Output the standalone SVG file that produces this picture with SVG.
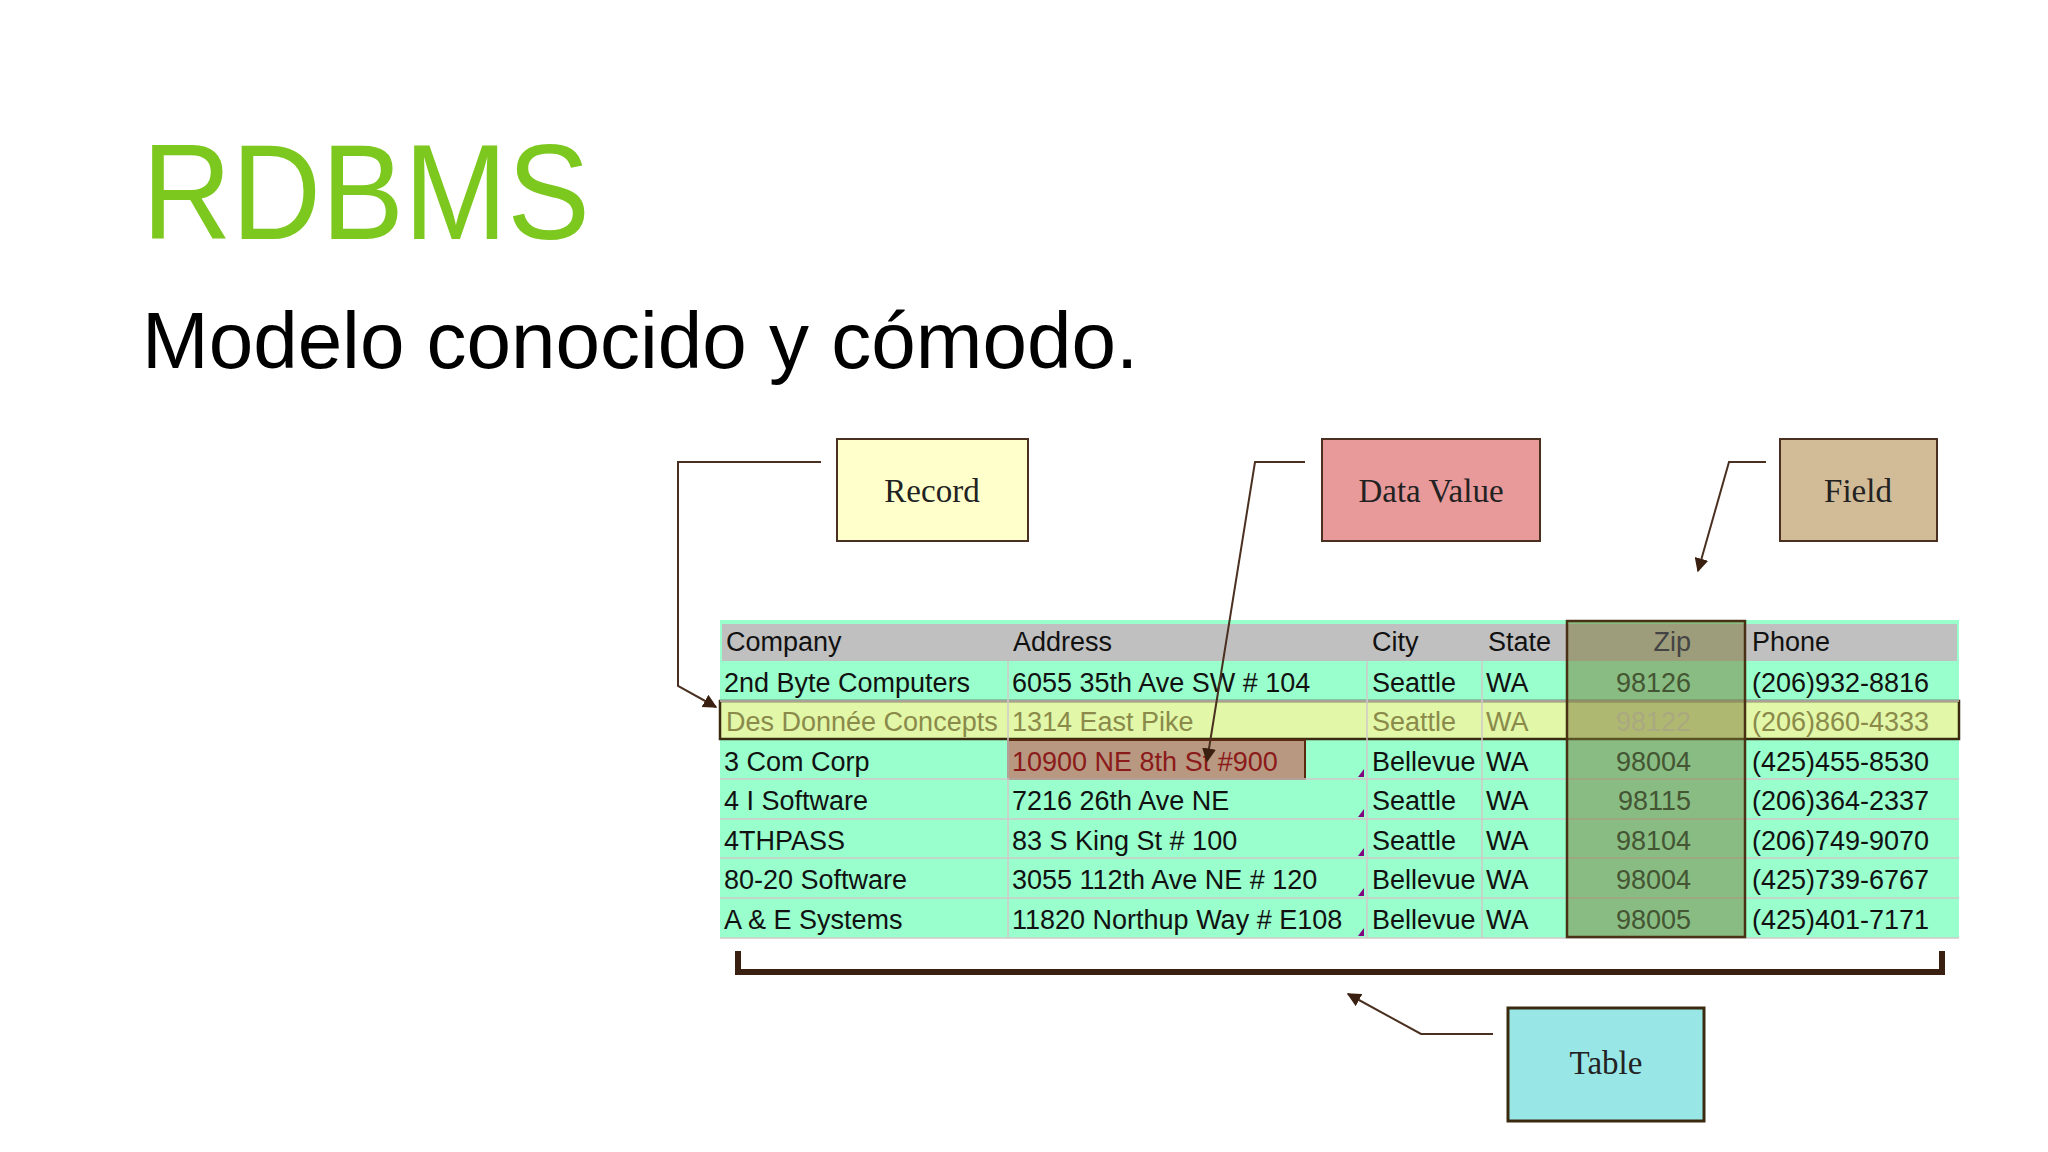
<svg xmlns="http://www.w3.org/2000/svg" width="2048" height="1152" viewBox="0 0 2048 1152">
<defs>
<style>
.t{font-family:"Liberation Sans",Arial,sans-serif;font-size:27px;fill:#111}
.lb{font-family:"Liberation Serif","Times New Roman",serif;font-size:33px;fill:#222;text-anchor:middle}
.box{stroke:#4a3020;stroke-width:2}
.con{fill:none;stroke:#4a3020;stroke-width:2}
.grid{stroke:#d0c8c8;stroke-width:1.5}
</style>
<marker id="ah" viewBox="0 0 10 10" refX="9" refY="5" markerWidth="7" markerHeight="7" orient="auto"><path d="M0,0L10,5L0,10z" fill="#3a2010"/></marker>
</defs>
<rect width="2048" height="1152" fill="#fff"/>
<text x="142" y="239" font-family="Liberation Sans,Arial,sans-serif" font-size="135" fill="#7dc81e" textLength="448" lengthAdjust="spacingAndGlyphs">RDBMS</text>
<text x="142" y="368" font-family="Liberation Sans,Arial,sans-serif" font-size="80" fill="#000">Modelo conocido y cómodo.</text>

<g id="table">
<rect x="720" y="620" width="1239" height="318" fill="#99ffcc"/>
<rect x="722" y="624" width="1235" height="37" fill="#c0c0c0"/>
<rect x="720" y="701" width="1239" height="38" fill="#e2f7a8" stroke="#3a2a10" stroke-width="2.5"/>
<rect x="1008" y="740" width="297" height="39" fill="#b89880" stroke="#5a2a10" stroke-width="2"/>
<g class="grid">
<line x1="720" y1="701" x2="1959" y2="701"/><line x1="720" y1="779" x2="1959" y2="779"/><line x1="720" y1="819" x2="1959" y2="819"/><line x1="720" y1="858" x2="1959" y2="858"/><line x1="720" y1="898" x2="1959" y2="898"/><line x1="720" y1="938" x2="1959" y2="938"/>
<line x1="1008" y1="661" x2="1008" y2="938"/><line x1="1367" y1="661" x2="1367" y2="938"/><line x1="1482" y1="661" x2="1482" y2="938"/><line x1="1745" y1="661" x2="1745" y2="938"/>
</g>
<rect x="1567" y="621" width="178" height="316" fill="#7a7a38" fill-opacity="0.5" stroke="#4a3015" stroke-width="2.5"/>
<g fill="#800080"><path d="M1364,777l-6,0l6,-8z"/><path d="M1364,817l-6,0l6,-8z"/><path d="M1364,856l-6,0l6,-8z"/><path d="M1364,896l-6,0l6,-8z"/><path d="M1364,936l-6,0l6,-8z"/></g>
<g class="t">
<text x="726" y="651">Company</text><text x="1013" y="651">Address</text><text x="1372" y="651">City</text><text x="1488" y="651">State</text><text x="1691" y="651" text-anchor="end" fill="#444">Zip</text><text x="1752" y="651">Phone</text>
<text x="724" y="692">2nd Byte Computers</text><text x="1012" y="692">6055 35th Ave SW # 104</text><text x="1372" y="692">Seattle</text><text x="1486" y="692">WA</text><text x="1691" y="692" text-anchor="end" fill="#445533">98126</text><text x="1752" y="692">(206)932-8816</text>
<g fill="#8a8a4a"><text x="726" y="731">Des Donnée Concepts</text><text x="1012" y="731">1314 East Pike</text><text x="1372" y="731">Seattle</text><text x="1486" y="731">WA</text><text x="1691" y="731" text-anchor="end" fill="#aaa880">98122</text><text x="1752" y="731">(206)860-4333</text></g>
<text x="724" y="771">3 Com Corp</text><text x="1012" y="771" fill="#8b1a1a">10900 NE 8th St #900</text><text x="1372" y="771">Bellevue</text><text x="1486" y="771">WA</text><text x="1691" y="771" text-anchor="end" fill="#445533">98004</text><text x="1752" y="771">(425)455-8530</text>
<text x="724" y="810">4 I Software</text><text x="1012" y="810">7216 26th Ave NE</text><text x="1372" y="810">Seattle</text><text x="1486" y="810">WA</text><text x="1691" y="810" text-anchor="end" fill="#445533">98115</text><text x="1752" y="810">(206)364-2337</text>
<text x="724" y="850">4THPASS</text><text x="1012" y="850">83 S King St # 100</text><text x="1372" y="850">Seattle</text><text x="1486" y="850">WA</text><text x="1691" y="850" text-anchor="end" fill="#445533">98104</text><text x="1752" y="850">(206)749-9070</text>
<text x="724" y="889">80-20 Software</text><text x="1012" y="889">3055 112th Ave NE # 120</text><text x="1372" y="889">Bellevue</text><text x="1486" y="889">WA</text><text x="1691" y="889" text-anchor="end" fill="#445533">98004</text><text x="1752" y="889">(425)739-6767</text>
<text x="724" y="929">A &amp; E Systems</text><text x="1012" y="929">11820 Northup Way # E108</text><text x="1372" y="929">Bellevue</text><text x="1486" y="929">WA</text><text x="1691" y="929" text-anchor="end" fill="#445533">98005</text><text x="1752" y="929">(425)401-7171</text>
</g>
</g>

<g id="record"><rect class="box" x="837" y="439" width="191" height="102" fill="#ffffcc"/><text class="lb" x="932" y="502">Record</text></g>
<g id="datavalue"><rect class="box" x="1322" y="439" width="218" height="102" fill="#e89a9a"/><text class="lb" x="1431" y="502">Data Value</text></g>
<g id="field"><rect class="box" x="1780" y="439" width="157" height="102" fill="#d2bc98"/><text class="lb" x="1858" y="502">Field</text></g>
<g id="tablebox"><rect x="1508" y="1008" width="196" height="113" fill="#99e6e6" stroke="#3a2a10" stroke-width="3"/><text class="lb" x="1606" y="1074">Table</text></g>

<g id="connectors">
<polyline class="con" points="821,462 678,462 678,686 716,707" marker-end="url(#ah)"/>
<polyline class="con" points="1305,462 1255,462 1207,761" marker-end="url(#ah)"/>
<polyline class="con" points="1766,462 1729,462 1698,571" marker-end="url(#ah)"/>
<polyline class="con" points="1493,1034 1421,1034 1348,994" stroke-width="3" marker-end="url(#ah)"/>
<polyline points="738,951 738,972 1942,972 1942,951" fill="none" stroke="#3a2010" stroke-width="6"/>
</g>
</svg>
